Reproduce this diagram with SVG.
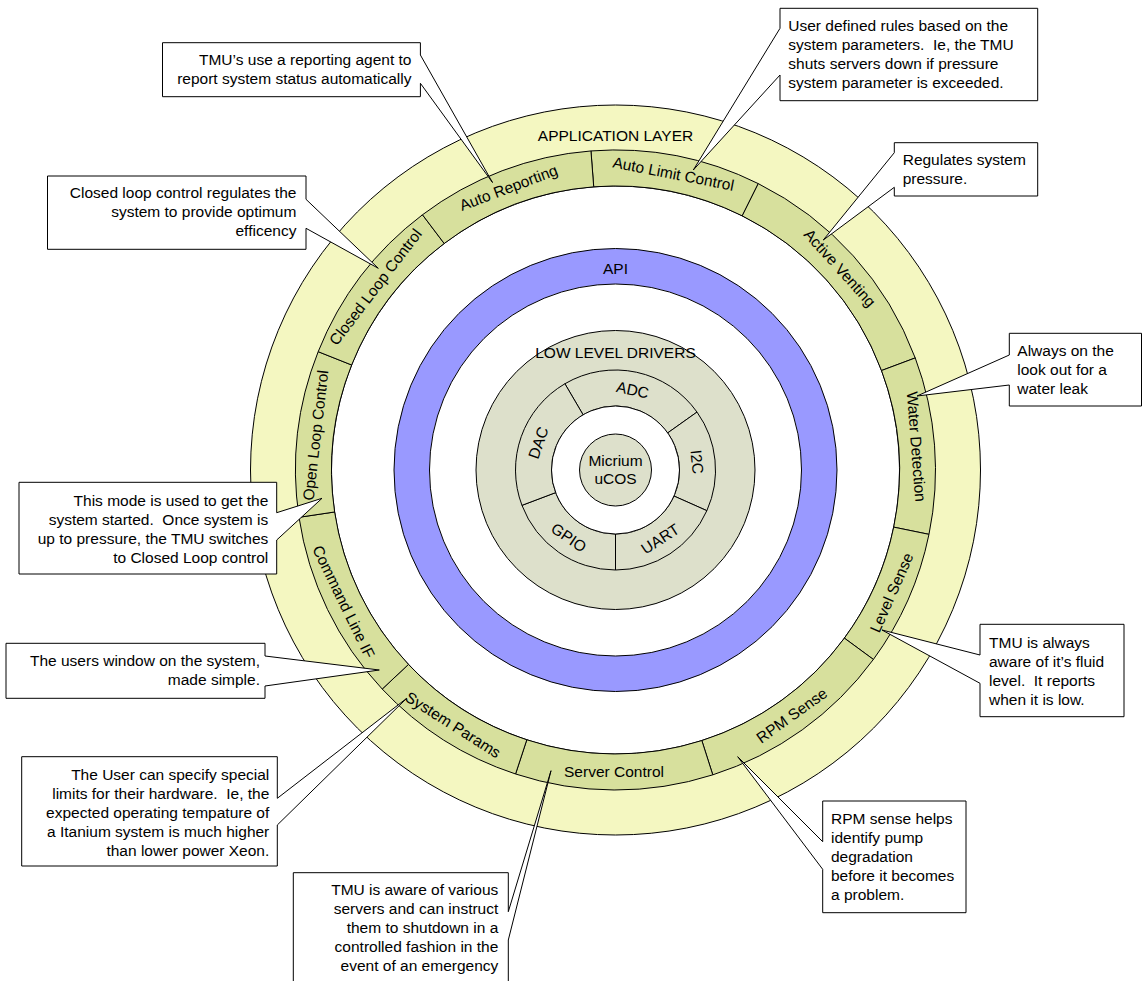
<svg xmlns="http://www.w3.org/2000/svg" width="1143" height="981" viewBox="0 0 1143 981">
<style>
text{font-family:"Liberation Sans",Arial,sans-serif;font-size:15.5px;fill:#000;white-space:pre}
.c{text-anchor:middle}
.r{text-anchor:end}
.yel{fill:#F4F7C1;stroke:#000;stroke-width:1}
.seg{fill:#D7E09D;stroke:#000;stroke-width:1}
.api{fill:#9999FF;stroke:#000;stroke-width:1}
.drv{fill:#DDE0CB;stroke:#000;stroke-width:1}
.wht{fill:#fff;stroke:#000;stroke-width:1}
.co{fill:#fff;stroke:#000;stroke-width:1;stroke-linejoin:miter}
</style>
<rect width="1143" height="981" fill="#fff"/>

<g id="application-layer">
  <circle class="yel" cx="615.5" cy="470" r="365"/>
  <circle class="wht" cx="615.5" cy="470" r="284"/>
  <text class="c" x="615.5" y="141">APPLICATION LAYER</text>
</g>

<g id="auto-limit-control"><path class="seg" d="M590.95,150.94 A320,320 0 0 1 758.28,183.62 L742.22,215.84 A284,284 0 0 0 593.71,186.84 Z"/>
<text class="c" y="5.5" transform="translate(673.4,173.6) rotate(11.05)">Auto Limit Control</text></g>
<g id="active-venting"><path class="seg" d="M758.28,183.62 A320,320 0 0 1 915.23,357.93 L881.51,370.54 A284,284 0 0 0 742.22,215.84 Z"/>
<text class="c" y="5.5" transform="translate(839.9,267.9) rotate(48)">Active Venting</text></g>
<g id="water-detection"><path class="seg" d="M915.23,357.93 A320,320 0 0 1 928.97,534.35 L893.70,527.11 A284,284 0 0 0 881.51,370.54 Z"/>
<text class="c" y="5.5" transform="translate(916.6,446.6) rotate(85.55)">Water Detection</text></g>
<g id="level-sense"><path class="seg" d="M928.97,534.35 A320,320 0 0 1 873.40,659.44 L844.38,638.13 A284,284 0 0 0 893.70,527.11 Z"/>
<text class="c" y="5.5" transform="translate(891.5,592.6) rotate(-66.05)">Level Sense</text></g>
<g id="rpm-sense"><path class="seg" d="M873.40,659.44 A320,320 0 0 1 712.79,774.85 L701.84,740.56 A284,284 0 0 0 844.38,638.13 Z"/>
<text class="c" y="5.5" transform="translate(791.7,715.3) rotate(-35.7)">RPM Sense</text></g>
<g id="server-control"><path class="seg" d="M712.79,774.85 A320,320 0 0 1 515.55,773.99 L526.80,739.79 A284,284 0 0 0 701.84,740.56 Z"/>
<text class="c" y="5.5" transform="translate(614,771.5)">Server Control</text></g>
<g id="system-params"><path class="seg" d="M515.55,773.99 A320,320 0 0 1 382.23,689.06 L408.47,664.41 A284,284 0 0 0 526.80,739.79 Z"/>
<text class="c" y="5.5" transform="translate(453.2,724.7) rotate(32.5)">System Params</text></g>
<g id="command-line-if"><path class="seg" d="M382.23,689.06 A320,320 0 0 1 299.01,517.30 L334.62,511.98 A284,284 0 0 0 408.47,664.41 Z"/>
<text class="c" y="5.5" transform="translate(343.7,601.7) rotate(64.15)">Command Line IF</text></g>
<g id="open-loop-control"><path class="seg" d="M299.01,517.30 A320,320 0 0 1 318.18,351.68 L351.63,364.99 A284,284 0 0 0 334.62,511.98 Z"/>
<text class="c" y="5.5" transform="translate(315.5,435.3) rotate(-83.4)">Open Loop Control</text></g>
<g id="closed-loop-control"><path class="seg" d="M318.18,351.68 A320,320 0 0 1 422.47,214.77 L444.19,243.49 A284,284 0 0 0 351.63,364.99 Z"/>
<text class="c" y="5.5" transform="translate(375.3,286.9) rotate(-52.7)">Closed Loop Control</text></g>
<g id="auto-reporting"><path class="seg" d="M422.47,214.77 A320,320 0 0 1 590.95,150.94 L593.71,186.84 A284,284 0 0 0 444.19,243.49 Z"/>
<text class="c" y="5.5" transform="translate(508.5,187.6) rotate(-20.75)">Auto Reporting</text></g>

<g id="api">
  <circle class="api" cx="615.5" cy="470" r="221.5"/>
  <circle class="wht" cx="615.5" cy="470" r="186"/>
  <text class="c" x="615.5" y="274">API</text>
</g>

<g id="low-level-drivers">
  <circle class="drv" cx="615.5" cy="470" r="139.5"/>
  <text class="c" x="615.5" y="357.5">LOW LEVEL DRIVERS</text>
</g>
<g id="adc"><path class="drv" d="M564.90,383.75 A100,100 0 0 1 697.01,412.07 L667.67,432.93 A64,64 0 0 0 583.11,414.80 Z"/>
<text class="c" y="5.5" transform="translate(632.7,389.8) rotate(12.1)">ADC</text></g>
<g id="i2c"><path class="drv" d="M697.01,412.07 A100,100 0 0 1 706.86,510.67 L673.97,496.03 A64,64 0 0 0 667.67,432.93 Z"/>
<text class="c" y="5.5" transform="translate(697.1,461.9) rotate(84.3)">I2C</text></g>
<g id="uart"><path class="drv" d="M706.86,510.67 A100,100 0 0 1 615.5,570 L615.5,534 A64,64 0 0 0 673.97,496.03 Z"/>
<text class="c" y="5.5" transform="translate(660.2,538.8) rotate(-33)">UART</text></g>
<g id="gpio"><path class="drv" d="M615.5,570 A100,100 0 0 1 521.96,505.35 L555.63,492.62 A64,64 0 0 0 615.5,534 Z"/>
<text class="c" y="5.5" transform="translate(568.9,537.5) rotate(34.65)">GPIO</text></g>
<g id="dac"><path class="drv" d="M521.96,505.35 A100,100 0 0 1 564.90,383.75 L583.11,414.80 A64,64 0 0 0 555.63,492.62 Z"/>
<text class="c" y="5.5" transform="translate(538.2,442.7) rotate(-70.55)">DAC</text></g>
<g id="core-hole"><circle class="wht" cx="615.5" cy="470" r="64"/></g>
<g id="micrium-ucos">
  <circle class="drv" cx="615.5" cy="470" r="36"/>
  <text class="c" x="615.5" y="465.5">Micrium</text>
  <text class="c" x="615.5" y="484">uCOS</text>
</g>

<g id="callouts">
<g id="note-auto-reporting">
  <path class="co" d="M162.5,42.7 H420.4 V55 L492.5,182.5 L420.4,83.3 V96.7 H162.5 Z"/>
  <text class="r" x="411.5" y="65">TMU’s use a reporting agent to</text>
  <text class="r" x="411.5" y="84">report system status automatically</text>
</g>
<g id="note-auto-limit">
  <path class="co" d="M780,8.3 H1037.7 V100.7 H780 V75 L693.3,170 L780,28.3 Z"/>
  <text x="788.3" y="31">User defined rules based on the</text>
  <text x="788.3" y="50">system parameters.  Ie, the TMU</text>
  <text x="788.3" y="69">shuts servers down if pressure</text>
  <text x="788.3" y="88">system parameter is exceeded.</text>
</g>
<g id="note-closed-loop">
  <path class="co" d="M47.5,176 H306 V199.3 L378.3,268.3 L306,228.3 V249.3 H47.5 Z"/>
  <text class="r" x="296.4" y="198">Closed loop control regulates the</text>
  <text class="r" x="296.4" y="217">system to provide optimum</text>
  <text class="r" x="296.4" y="236">efficency</text>
</g>
<g id="note-active-venting">
  <path class="co" d="M894.3,142.7 H1037.7 V196 H894.3 V187.3 L823.3,240 L894.3,152.7 Z"/>
  <text x="902.7" y="165">Regulates system</text>
  <text x="902.7" y="184">pressure.</text>
</g>
<g id="note-water-detection">
  <path class="co" d="M1009.3,333.3 H1141.5 V406 H1009.3 V385 L917,396 L1009.3,355 Z"/>
  <text x="1017.3" y="356">Always on the</text>
  <text x="1017.3" y="375">look out for a</text>
  <text x="1017.3" y="394">water leak</text>
</g>
<g id="note-open-loop">
  <path class="co" d="M19,482.3 H276.7 V512.7 L322,498.3 L276.7,540 V574 H19 Z"/>
  <text class="r" x="268.3" y="505.5">This mode is used to get the</text>
  <text class="r" x="268.3" y="524.5">system started.  Once system is</text>
  <text class="r" x="268.3" y="543.5">up to pressure, the TMU switches</text>
  <text class="r" x="268.3" y="562.5">to Closed Loop control</text>
</g>
<g id="note-command-line">
  <path class="co" d="M6,643.3 H265 V656 L379.3,670 L265,686 V698.3 H6 Z"/>
  <text class="r" x="260" y="666">The users window on the system,</text>
  <text class="r" x="260" y="685">made simple.</text>
</g>
<g id="note-system-params">
  <path class="co" d="M21.7,756.7 H277.3 V798.3 L406.7,698.3 L277.3,825 V866 H21.7 Z"/>
  <text class="r" x="269.3" y="780">The User can specify special</text>
  <text class="r" x="269.3" y="799">limits for their hardware.  Ie, the</text>
  <text class="r" x="269.3" y="818">expected operating tempature of</text>
  <text class="r" x="269.3" y="837">a Itanium system is much higher</text>
  <text class="r" x="269.3" y="856">than lower power Xeon.</text>
</g>
<g id="note-level-sense">
  <path class="co" d="M980,624.3 H1124 V716.7 H980 V683.3 L882,630 L980,655 Z"/>
  <text x="989" y="647.5">TMU is always</text>
  <text x="989" y="666.5">aware of it’s fluid</text>
  <text x="989" y="685.5">level.  It reports</text>
  <text x="989" y="704.5">when it is low.</text>
</g>
<g id="note-rpm-sense">
  <path class="co" d="M822.7,801 H966 V912.7 H822.7 V869.3 L737.7,756.7 L822.7,841.7 Z"/>
  <text x="831" y="823.5">RPM sense helps</text>
  <text x="831" y="842.5">identify pump</text>
  <text x="831" y="861.5">degradation</text>
  <text x="831" y="880.5">before it becomes</text>
  <text x="831" y="899.5">a problem.</text>
</g>
<g id="note-server-control">
  <path class="co" d="M293.3,872.7 H508.3 V911.7 L551,770.7 L508.3,940 V995 H293.3 Z"/>
  <text class="r" x="498.3" y="895">TMU is aware of various</text>
  <text class="r" x="498.3" y="914">servers and can instruct</text>
  <text class="r" x="498.3" y="933">them to shutdown in a</text>
  <text class="r" x="498.3" y="952">controlled fashion in the</text>
  <text class="r" x="498.3" y="971">event of an emergency</text>
</g>
</g>
</svg>
